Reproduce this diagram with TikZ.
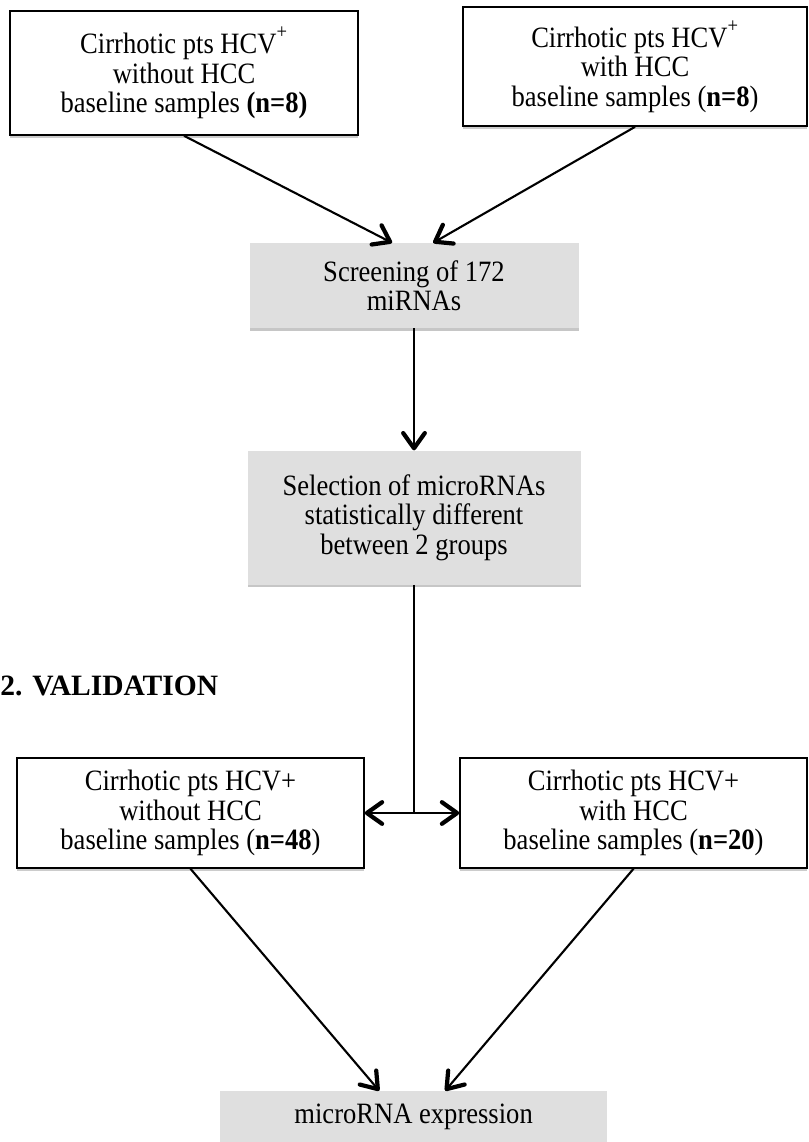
\documentclass[tikz,border=0pt]{standalone}
\usepackage{fontspec}
\setmainfont{Liberation Serif}
\newfontfamily\boxfont{Liberation Serif}[FakeStretch=0.9]
\usetikzlibrary{arrows.meta,positioning,shadows}

\begin{document}
\begin{tikzpicture}[font=\boxfont\fontsize{21}{21}\selectfont,
  blk/.style={draw,fill=white,line width=1.1pt,align=center,inner sep=2pt,drop shadow={shadow xshift=0pt,shadow yshift=-0.8mm,fill=gray!40,opacity=1}},
  gry/.style={fill=gray!25,align=center,inner sep=2pt,drop shadow={shadow xshift=0pt,shadow yshift=-0.6mm,fill=gray!45,opacity=1}},
  arr/.style={-{Straight Barb[length=3.8mm,width=5.4mm,line width=3pt,round]},line width=1.5pt},node distance=3.05cm]
  \useasboundingbox (0,0) rectangle (20.2,-28.55);
  \node[blk,minimum width=8.7cm,minimum height=3.1cm](a) at (4.6,-1.825){Cirrhotic pts HCV\textsuperscript{\raisebox{.5ex}{+}}\\without HCC\\baseline samples \textbf{(n=8)}};
  \node[blk,minimum width=8.6cm,minimum height=2.975cm](b) at (15.875,-1.665){Cirrhotic pts HCV\textsuperscript{\raisebox{.5ex}{+}}\\with HCC\\baseline samples (\textbf{n=8})};
  \node[gry,minimum width=8.225cm,minimum height=2.125cm](scr) at (10.35,-7.14){Screening of 172\\miRNAs};
  \node[gry,minimum width=8.325cm,minimum height=3.35cm,below=of scr](sel){Selection of microRNAs\\statistically different\\between 2 groups};
  \node[anchor=west,inner sep=0pt,font=\normalfont\fontsize{21}{23}\selectfont\bfseries](val) at (0,-17.15){2. VALIDATION};
  \node[blk,minimum width=8.675cm,minimum height=2.75cm](c) at (4.7625,-20.325){Cirrhotic pts HCV+\\without HCC\\baseline samples (\textbf{n=48})};
  \node[blk,minimum width=8.675cm,minimum height=2.75cm](d) at (15.8375,-20.325){Cirrhotic pts HCV+\\with HCC\\baseline samples (\textbf{n=20})};
  \node[gry,minimum width=9.675cm,minimum height=1.275cm](res) at (10.34,-27.9125){microRNA expression};
  \draw[arr](a.south)--([xshift=-5.5mm]scr.north);\draw[arr](b.south)--([xshift=4.8mm]scr.north);
  \draw[arr](scr.south)--(sel.north);
  \draw[line width=1.5pt](sel.south)--(sel.south |- c.east) coordinate (split);
  \draw[arr](split)--(c.east);\draw[arr](split)--(d.west);
  \draw[arr](c.south)--([xshift=-8.6mm]res.north);\draw[arr](d.south)--([xshift=7.9mm]res.north);
\end{tikzpicture}
\end{document}
